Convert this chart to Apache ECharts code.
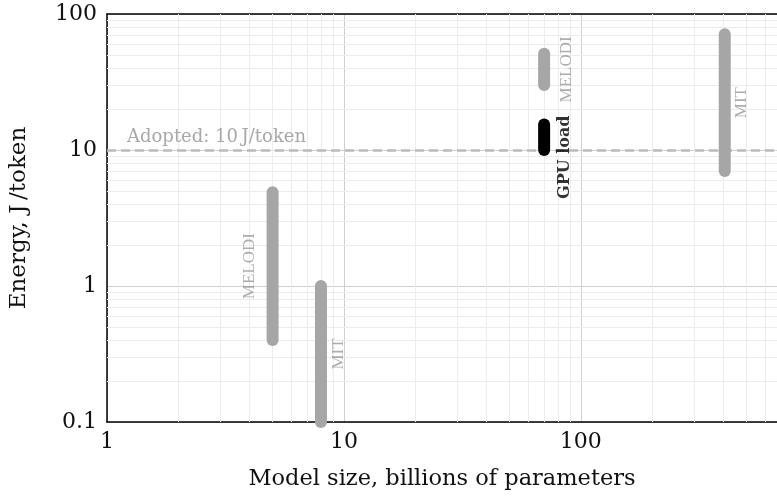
<!DOCTYPE html>
<html><head><meta charset="utf-8">
<script src="https://cdn.jsdelivr.net/npm/echarts@6/dist/echarts.min.js"></script>
<style>html,body{margin:0;padding:0;background:#fff}#c{width:777px;height:496px}</style>
</head><body><div id="c"></div>
<script>
// ---- data ----
const rangeNames = ['MELODI', 'MIT', 'MELODI', 'GPU load', 'MIT'];
const modelSizes = [5, 8, 70, 70, 405];          // billions of parameters
const energyLow  = [0.4, 0.1, 30, 10, 7];        // J/token
const energyHigh = [4.9, 1.0, 51, 15.4, 71];     // J/token
const adoptedLevel = 10;
const adoptedLabel = 'Adopted: 10\u2009J/token';
const xRange = [1, 673];
const yRange = [0.1, 100];

// ---- styles (kept apart from data); offset = [up, right] in rotated frame ----
const barStyles = [
  { color: '#a6a6a6', labelColor: '#999', bold: false, offset: [0, -23] },
  { color: '#a6a6a6', labelColor: '#999', bold: false, offset: [0, 18] },
  { color: '#a6a6a6', labelColor: '#999', bold: false, offset: [0, 22] },
  { color: '#000000', labelColor: '#000', bold: true,  offset: [-20, 21] },
  { color: '#a6a6a6', labelColor: '#999', bold: false, offset: [0, 17] }
];

const minorX = [], minorY = [];
for (const d of [1, 10, 100]) for (let k = 2; k <= 9; k++) { const v = d * k; if (v < xRange[1]) minorX.push(v); }
for (const d of [0.1, 1, 10]) for (let k = 2; k <= 9; k++) minorY.push(+(d * k).toFixed(3));

const serif = 'DejaVu Serif';
const series = [];
series.push({
  type: 'line', data: [], silent: true, z: 1,
  markLine: {
    silent: true, symbol: 'none', label: { show: false },
    lineStyle: { color: '#ececec', width: 1, type: 'solid' },
    data: minorX.map(v => ({ xAxis: v })).concat(minorY.map(v => ({ yAxis: v })))
  }
});
series.push({
  type: 'line', data: [], silent: true, z: 3,
  markLine: {
    silent: true, symbol: 'none',
    lineStyle: { color: '#bbbbbb', width: 2.5, type: [9, 5] },
    label: { show: true, position: 'insideStartTop', formatter: adoptedLabel,
             color: '#a8a8a8', fontFamily: serif, fontSize: 18, distance: [20, 4] },
    data: [{ yAxis: adoptedLevel }]
  }
});
modelSizes.forEach((x, i) => {
  const st = barStyles[i];
  series.push({
    type: 'line', symbol: 'none', z: 5, silent: true,
    data: [[x, energyLow[i]], [x, energyHigh[i]]],
    lineStyle: { width: 12, cap: 'round', color: st.color }
  });
  series.push({
    type: 'scatter', symbolSize: 0, z: 6, silent: true,
    data: [[x, Math.sqrt(energyLow[i] * energyHigh[i])]],
    label: {
      show: true, formatter: rangeNames[i], rotate: 90, position: 'inside',
      offset: st.offset, color: st.labelColor,
      fontFamily: st.bold ? serif : 'Liberation Serif',
      fontWeight: st.bold ? 'bold' : 'normal',
      fontSize: st.bold ? 16 : 17
    }
  });
});

const chart = echarts.init(document.getElementById('c'), null, { renderer: 'canvas' });
chart.setOption({
  animation: false,
  backgroundColor: '#fff',
  grid: { left: 104, right: 0, top: 14, bottom: 73 },
  xAxis: [{
    type: 'log', logBase: 10, min: xRange[0], max: xRange[1],
    name: 'Model size, billions of parameters', nameLocation: 'middle', nameGap: 46,
    nameTextStyle: { fontFamily: serif, fontSize: 22.5, color: '#111' },
    axisLine: { show: true, lineStyle: { color: '#000', width: 1.5 } },
    axisTick: { show: false },
    axisLabel: { fontFamily: serif, fontSize: 22, color: '#111', margin: 9,
                 formatter: v => String(v), showMaxLabel: false },
    splitLine: { show: true, lineStyle: { color: '#d0d0d0', width: 1 } }
  }, {
    type: 'log', logBase: 10, min: xRange[0], max: xRange[1], position: 'top',
    axisLine: { show: true, lineStyle: { color: '#000', width: 1.5 } },
    axisTick: { show: false }, axisLabel: { show: false }, splitLine: { show: false }
  }],
  yAxis: {
    type: 'log', logBase: 10, min: yRange[0], max: yRange[1],
    name: 'Energy, J\u2009/token', nameLocation: 'middle', nameGap: 76,
    nameTextStyle: { fontFamily: serif, fontSize: 23, color: '#111' },
    axisLine: { show: true, lineStyle: { color: '#000', width: 1.5 } },
    axisTick: { show: false },
    axisLabel: { fontFamily: serif, fontSize: 22, color: '#111', margin: 10,
                 formatter: v => (v < 1 ? v.toFixed(1) : String(Math.round(v))) },
    splitLine: { show: true, lineStyle: { color: '#d0d0d0', width: 1 } }
  },
  series: series
});
</script></body></html>
